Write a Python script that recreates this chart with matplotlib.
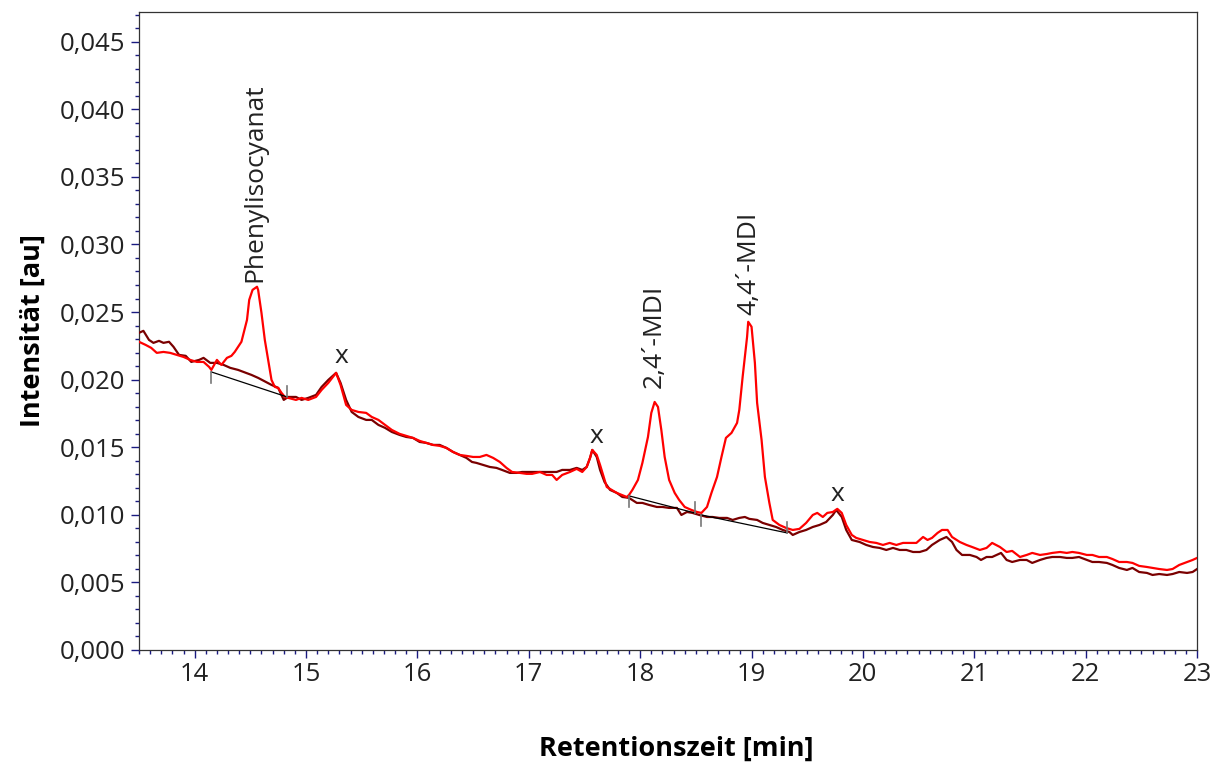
import numpy as np
import matplotlib
matplotlib.use('Agg')
import matplotlib.pyplot as plt
from matplotlib.ticker import MultipleLocator, FuncFormatter

# retention time [min] and intensity [1e-3 au]
# dark trace (reference / blank)
dark_t = [13.50, 13.54, 13.59, 13.63, 13.68, 13.72, 13.77, 13.81, 13.86, 13.92,
          13.97, 14.04, 14.08, 14.14, 14.20, 14.26, 14.32, 14.39, 14.46, 14.51,
          14.57, 14.64, 14.69, 14.75, 14.80, 14.84, 14.91, 14.96, 15.02, 15.09,
          15.14, 15.20, 15.27, 15.31, 15.36, 15.41, 15.47, 15.54, 15.59, 15.65,
          15.71, 15.77, 15.84, 15.90, 15.96, 16.02, 16.08, 16.14, 16.20, 16.26,
          16.32, 16.38, 16.44, 16.49, 16.53, 16.59, 16.65, 16.71, 16.76, 16.83,
          16.89, 16.94, 17.01, 17.07, 17.12, 17.19, 17.25, 17.30, 17.37, 17.43,
          17.48, 17.52, 17.55, 17.57, 17.61, 17.64, 17.68, 17.73, 17.79, 17.84,
          17.90, 17.97, 18.02, 18.08, 18.15, 18.20, 18.26, 18.33, 18.37, 18.42,
          18.47, 18.53, 18.60, 18.65, 18.71, 18.78, 18.83, 18.89, 18.94, 18.98,
          19.05, 19.10, 19.16, 19.22, 19.28, 19.34, 19.37, 19.43, 19.49, 19.55,
          19.61, 19.67, 19.73, 19.76, 19.81, 19.85, 19.90, 19.97, 20.03, 20.09,
          20.15, 20.21, 20.27, 20.33, 20.39, 20.45, 20.51, 20.57, 20.62, 20.69,
          20.75, 20.80, 20.84, 20.89, 20.96, 21.02, 21.06, 21.11, 21.16, 21.24,
          21.29, 21.34, 21.41, 21.47, 21.52, 21.59, 21.65, 21.70, 21.77, 21.83,
          21.88, 21.94, 22.01, 22.06, 22.12, 22.19, 22.24, 22.30, 22.37, 22.42,
          22.48, 22.55, 22.60, 22.66, 22.73, 22.78, 22.84, 22.91, 22.96, 23.00]
dark_i = [23.46, 23.61, 22.94, 22.72, 22.87, 22.72, 22.80, 22.43, 21.83, 21.76,
          21.31, 21.46, 21.61, 21.24, 21.24, 21.09, 20.87, 20.72, 20.50, 20.35,
          20.13, 19.83, 19.61, 19.39, 18.50, 18.72, 18.72, 18.50, 18.65, 18.87,
          19.46, 19.98, 20.50, 19.76, 18.50, 17.61, 17.24, 17.02, 17.02, 16.65,
          16.43, 16.13, 15.91, 15.76, 15.69, 15.39, 15.32, 15.17, 15.17, 14.95,
          14.65, 14.43, 14.21, 13.91, 13.84, 13.69, 13.54, 13.47, 13.32, 13.10,
          13.10, 13.17, 13.17, 13.17, 13.17, 13.17, 13.17, 13.32, 13.32, 13.47,
          13.32, 13.54, 14.21, 14.80, 14.28, 13.32, 12.43, 11.84, 11.62, 11.32,
          11.25, 10.88, 10.88, 10.73, 10.58, 10.58, 10.51, 10.51, 9.99, 10.21,
          10.14, 9.99, 9.84, 9.84, 9.77, 9.77, 9.62, 9.77, 9.84, 9.70,
          9.62, 9.40, 9.25, 9.10, 8.88, 8.73, 8.51, 8.73, 8.88, 9.10,
          9.25, 9.47, 9.99, 10.36, 9.84, 8.88, 8.14, 7.99, 7.77, 7.62,
          7.55, 7.40, 7.55, 7.40, 7.40, 7.25, 7.25, 7.40, 7.77, 8.14,
          8.36, 7.99, 7.40, 7.03, 7.03, 6.88, 6.66, 6.88, 6.88, 7.18,
          6.66, 6.51, 6.66, 6.66, 6.44, 6.66, 6.81, 6.88, 6.88, 6.81,
          6.81, 6.88, 6.66, 6.51, 6.51, 6.44, 6.29, 6.07, 5.92, 6.07,
          5.77, 5.70, 5.55, 5.62, 5.55, 5.62, 5.77, 5.70, 5.77, 5.99]

# red trace (sample)
red_t = [13.50, 13.56, 13.61, 13.66, 13.72, 13.78, 13.84, 13.90, 13.96, 14.02,
         14.08, 14.13, 14.15, 14.20, 14.24, 14.29, 14.33, 14.36, 14.42, 14.47,
         14.49, 14.52, 14.56, 14.57, 14.60, 14.63, 14.66, 14.69, 14.72, 14.75,
         14.78, 14.81, 14.84, 14.91, 14.96, 15.02, 15.09, 15.14, 15.20, 15.27,
         15.31, 15.36, 15.41, 15.47, 15.54, 15.59, 15.65, 15.71, 15.77, 15.84,
         15.90, 15.96, 16.02, 16.08, 16.14, 16.20, 16.26, 16.32, 16.38, 16.44,
         16.50, 16.56, 16.62, 16.68, 16.74, 16.80, 16.85, 16.92, 16.98, 17.03,
         17.10, 17.16, 17.21, 17.25, 17.30, 17.37, 17.43, 17.48, 17.52, 17.55,
         17.57, 17.61, 17.64, 17.70, 17.79, 17.88, 17.90, 17.93, 17.98, 18.02,
         18.07, 18.10, 18.13, 18.16, 18.19, 18.22, 18.26, 18.31, 18.35, 18.40,
         18.46, 18.51, 18.55, 18.60, 18.64, 18.69, 18.73, 18.77, 18.82, 18.87,
         18.89, 18.92, 18.96, 18.97, 19.00, 19.03, 19.05, 19.09, 19.12, 19.16,
         19.19, 19.25, 19.31, 19.37, 19.43, 19.49, 19.55, 19.59, 19.64, 19.68,
         19.73, 19.77, 19.81, 19.85, 19.90, 19.94, 20.00, 20.06, 20.12, 20.18,
         20.24, 20.30, 20.36, 20.42, 20.48, 20.54, 20.58, 20.62, 20.67, 20.71,
         20.76, 20.80, 20.87, 20.93, 20.98, 21.05, 21.11, 21.16, 21.23, 21.29,
         21.34, 21.41, 21.47, 21.52, 21.59, 21.65, 21.70, 21.77, 21.83, 21.88,
         21.94, 22.01, 22.06, 22.12, 22.19, 22.24, 22.30, 22.37, 22.42, 22.48,
         22.55, 22.60, 22.66, 22.73, 22.78, 22.84, 22.91, 22.96, 23.00]
red_i = [22.80, 22.57, 22.35, 21.98, 22.05, 21.98, 21.83, 21.68, 21.46, 21.31,
         21.31, 20.94, 20.72, 21.46, 21.09, 21.61, 21.76, 22.05, 22.80, 24.42,
         25.90, 26.64, 26.87, 26.64, 24.94, 22.94, 21.46, 19.98, 19.46, 19.39,
         19.02, 18.72, 18.65, 18.50, 18.65, 18.50, 18.72, 19.24, 19.76, 20.50,
         19.61, 18.13, 17.76, 17.61, 17.54, 17.24, 17.02, 16.65, 16.28, 15.99,
         15.84, 15.69, 15.47, 15.32, 15.17, 15.10, 14.95, 14.65, 14.43, 14.36,
         14.28, 14.28, 14.43, 14.21, 13.91, 13.47, 13.17, 13.10, 13.03, 13.03,
         13.17, 12.95, 12.95, 12.58, 12.95, 13.17, 13.40, 13.17, 13.54, 14.21,
         14.80, 14.43, 13.69, 12.06, 11.62, 11.32, 11.47, 11.84, 12.58, 13.84,
         15.76, 17.54, 18.35, 17.98, 16.28, 14.28, 12.58, 11.62, 11.10, 10.58,
         10.36, 10.21, 10.14, 10.58, 11.62, 12.80, 14.28, 15.69, 16.06, 16.80,
         17.76, 20.20, 23.17, 24.28, 23.91, 21.24, 18.28, 15.54, 12.80, 10.88,
         9.62, 9.25, 9.03, 8.88, 8.96, 9.40, 9.99, 10.14, 9.84, 10.14,
         10.21, 10.44, 10.14, 9.25, 8.51, 8.29, 8.14, 7.99, 7.92, 7.77,
         7.92, 7.77, 7.92, 7.92, 7.92, 8.36, 8.14, 8.29, 8.66, 8.88,
         8.88, 8.36, 7.99, 7.77, 7.62, 7.40, 7.55, 7.92, 7.62, 7.25,
         7.33, 6.88, 7.03, 7.18, 7.03, 7.10, 7.18, 7.25, 7.18, 7.25,
         7.18, 7.03, 7.03, 6.88, 6.88, 6.73, 6.51, 6.51, 6.44, 6.22,
         6.14, 6.07, 5.99, 5.92, 5.99, 6.29, 6.51, 6.66, 6.81]

# integration baselines: start / end (time, intensity 1e-3)
base_t0 = [14.15, 17.90, 18.55]
base_i0 = [20.57, 11.40, 9.99]
base_t1 = [14.83, 18.49, 19.32]
base_i1 = [18.72, 10.14, 8.66]

# peak labels
peak_names = ['Phenylisocyanat', '2,4´-MDI', '4,4´-MDI']
peak_t = [14.54, 18.13, 18.98]
peak_i = [27.2, 19.4, 24.8]
x_t = [15.32, 17.61, 19.77]
x_i = [21.7, 15.8, 11.5]

plt.rcParams['font.family'] = ['Open Sans', 'DejaVu Sans']

fig = plt.figure(figsize=(12.21, 7.62), dpi=100)
ax = fig.add_axes([0.1138, 0.147, 0.8666, 0.8373])

ax.plot(dark_t, np.array(dark_i) / 1000, color='#7a0000', lw=1.6, zorder=3)
ax.plot(red_t, np.array(red_i) / 1000, color='#ff0000', lw=1.6, zorder=4)

#baselines with start/end markers
for t0, i0, t1, i1 in zip(base_t0, base_i0, base_t1, base_i1):
    ax.plot([t0, t1], [i0 / 1000, i1 / 1000], color='black', lw=0.9, zorder=5)
    ax.plot([t0, t0], [i0 / 1000, i0 / 1000 - 0.0008], color='#777777', lw=1.2, zorder=5)
    ax.plot([t1, t1], [i1 / 1000, i1 / 1000 + 0.0008], color='#777777', lw=1.2, zorder=5)

for name, t, i in zip(peak_names, peak_t, peak_i):
    ax.text(t, i / 1000, name, rotation=90, ha='center', va='bottom', fontsize=19, color='#222222')
for t, i in zip(x_t, x_i):
    ax.text(t, i / 1000, 'x', ha='center', va='center', fontsize=19, color='#222222')

ax.set_xlim(13.5, 23)
ax.set_ylim(0, 0.0472)
ax.xaxis.set_major_locator(MultipleLocator(1))
ax.xaxis.set_minor_locator(MultipleLocator(0.1))
ax.yaxis.set_major_locator(MultipleLocator(0.005))
ax.yaxis.set_minor_locator(MultipleLocator(0.001))
ax.yaxis.set_major_formatter(FuncFormatter(lambda v, p: ('%.3f' % v).replace('.', ',')))

ax.tick_params(which='major', length=6, width=1, color='#1a1a80', labelsize=18.5, labelcolor='#222222')
ax.tick_params(which='minor', length=3, width=1, color='#1a1a80')
ax.tick_params(axis='x', pad=3)
ax.tick_params(axis='y', pad=4)
for s in ax.spines.values():
    s.set_color('#333333')
    s.set_linewidth(0.9)

fig.text(0.554, 0.018, 'Retentionszeit [min]', fontsize=19.5, fontweight='bold', ha='center', va='center')
ax.set_ylabel('Intensität [au]', fontsize=19.5, fontweight='bold', labelpad=10)

plt.savefig('out.png', dpi=100)
